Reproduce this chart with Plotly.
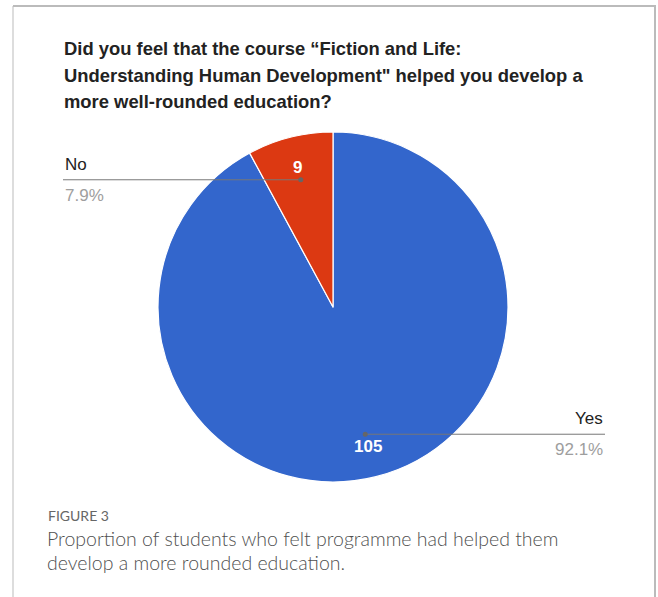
import math
import plotly.graph_objects as go

# Survey answers
labels = ["Yes", "No"]
counts = [105, 9]
colors = ["#3366CC", "#DC3912"]

title_lines = [
    "Did you feel that the course \u201cFiction and Life:",
    "Understanding Human Development\" helped you develop a",
    "more well-rounded education?",
]
fig_label = "FIGURE 3"
caption_lines = [
    "Proportion of students who felt programme had helped them",
    "develop a more rounded education.",
]

W, H = 658, 597
cx, cy, r = 333, 307, 175  # pie centre and radius in pixels


def px(x):
    return x / W


def py(y):
    return 1 - y / H


fig = go.Figure()
fig.add_trace(go.Pie(
    labels=labels,
    values=counts,
    sort=False,
    direction="clockwise",
    rotation=0,
    marker=dict(colors=colors, line=dict(color="white", width=1.2)),
    textinfo="none",
    hoverinfo="label+value+percent",
    showlegend=False,
    domain=dict(x=[px(cx - r), px(cx + r)], y=[py(cy + r), py(cy - r)]),
))

annotations = []
shapes = []

# title, one annotation per line for fixed line spacing
for i, line in enumerate(title_lines):
    annotations.append(dict(
        x=px(62), y=py(48 + i * 27), xref="paper", yref="paper",
        xanchor="left", yanchor="middle", showarrow=False, text=f"<b>{line}</b>",
        font=dict(family="Liberation Sans, Arial", size=18.4, color="#222222"),
    ))

# slice values and callouts
total = sum(counts)
start = 0.0
for lab, val in zip(labels, counts):
    frac = val / total
    mid = (start + frac / 2) * 2 * math.pi  # clockwise from 12 o'clock
    start += frac
    sx, sy = math.sin(mid), -math.cos(mid)

    # value label inside the slice
    annotations.append(dict(
        x=px(cx + 0.82 * r * sx), y=py(cy + 0.82 * r * sy),
        xref="paper", yref="paper", showarrow=False, text=str(val),
        font=dict(family="Liberation Sans, Arial", size=17, color="white", weight=600),
        xanchor="center", yanchor="middle",
    ))

    # leader line from a dot in the slice out to the label
    ax, ay = cx + 0.75 * r * sx, cy + 0.75 * r * sy
    right = sx > 0
    ex = 605 if right else 63
    shapes.append(dict(type="line", xref="paper", yref="paper",
                       x0=px(ax), y0=py(ay), x1=px(ex), y1=py(ay),
                       line=dict(color="#777777", width=1)))
    shapes.append(dict(type="circle", xref="paper", yref="paper",
                       x0=px(ax - 2.5), x1=px(ax + 2.5), y0=py(ay - 2.5), y1=py(ay + 2.5),
                       fillcolor="#666666", line=dict(width=0)))
    anchor = "right" if right else "left"
    annotations.append(dict(
        x=px(ex), y=py(ay - 4), xref="paper", yref="paper", showarrow=False,
        xanchor=anchor, yanchor="bottom", text=lab,
        font=dict(family="Liberation Sans, Arial", size=17, color="#222222"),
    ))
    annotations.append(dict(
        x=px(ex), y=py(ay + 4), xref="paper", yref="paper", showarrow=False,
        xanchor=anchor, yanchor="top", text=f"{frac * 100:.1f}%",
        font=dict(family="Liberation Sans, Arial", size=17, color="#9E9E9E"),
    ))

# figure caption
annotations.append(dict(
    x=px(46), y=py(515), xref="paper", yref="paper", showarrow=False,
    xanchor="left", yanchor="middle", text=fig_label,
    font=dict(family="Lato, Open Sans", size=14, color="#666666"),
))
for i, line in enumerate(caption_lines):
    annotations.append(dict(
        x=px(45), y=py(538 + i * 24), xref="paper", yref="paper", showarrow=False,
        xanchor="left", yanchor="middle", text=line,
        font=dict(family="Lato, Open Sans", size=19.5, color="#505050", weight=300),
    ))

# frame around the figure panel
shapes += [
    dict(type="line", xref="paper", yref="paper", x0=px(13), x1=px(656), y0=py(6), y1=py(6),
         line=dict(color="#BBBBBB", width=2)),
    dict(type="line", xref="paper", yref="paper", x0=px(13), x1=px(13), y0=py(6), y1=0,
         line=dict(color="#BBBBBB", width=1)),
    dict(type="line", xref="paper", yref="paper", x0=px(655), x1=px(655), y0=py(6), y1=0,
         line=dict(color="#BBBBBB", width=2)),
]

fig.update_layout(
    width=W, height=H,
    margin=dict(l=0, r=0, t=0, b=0),
    paper_bgcolor="white", plot_bgcolor="white",
    annotations=annotations, shapes=shapes,
)

fig.write_html("out.html")
